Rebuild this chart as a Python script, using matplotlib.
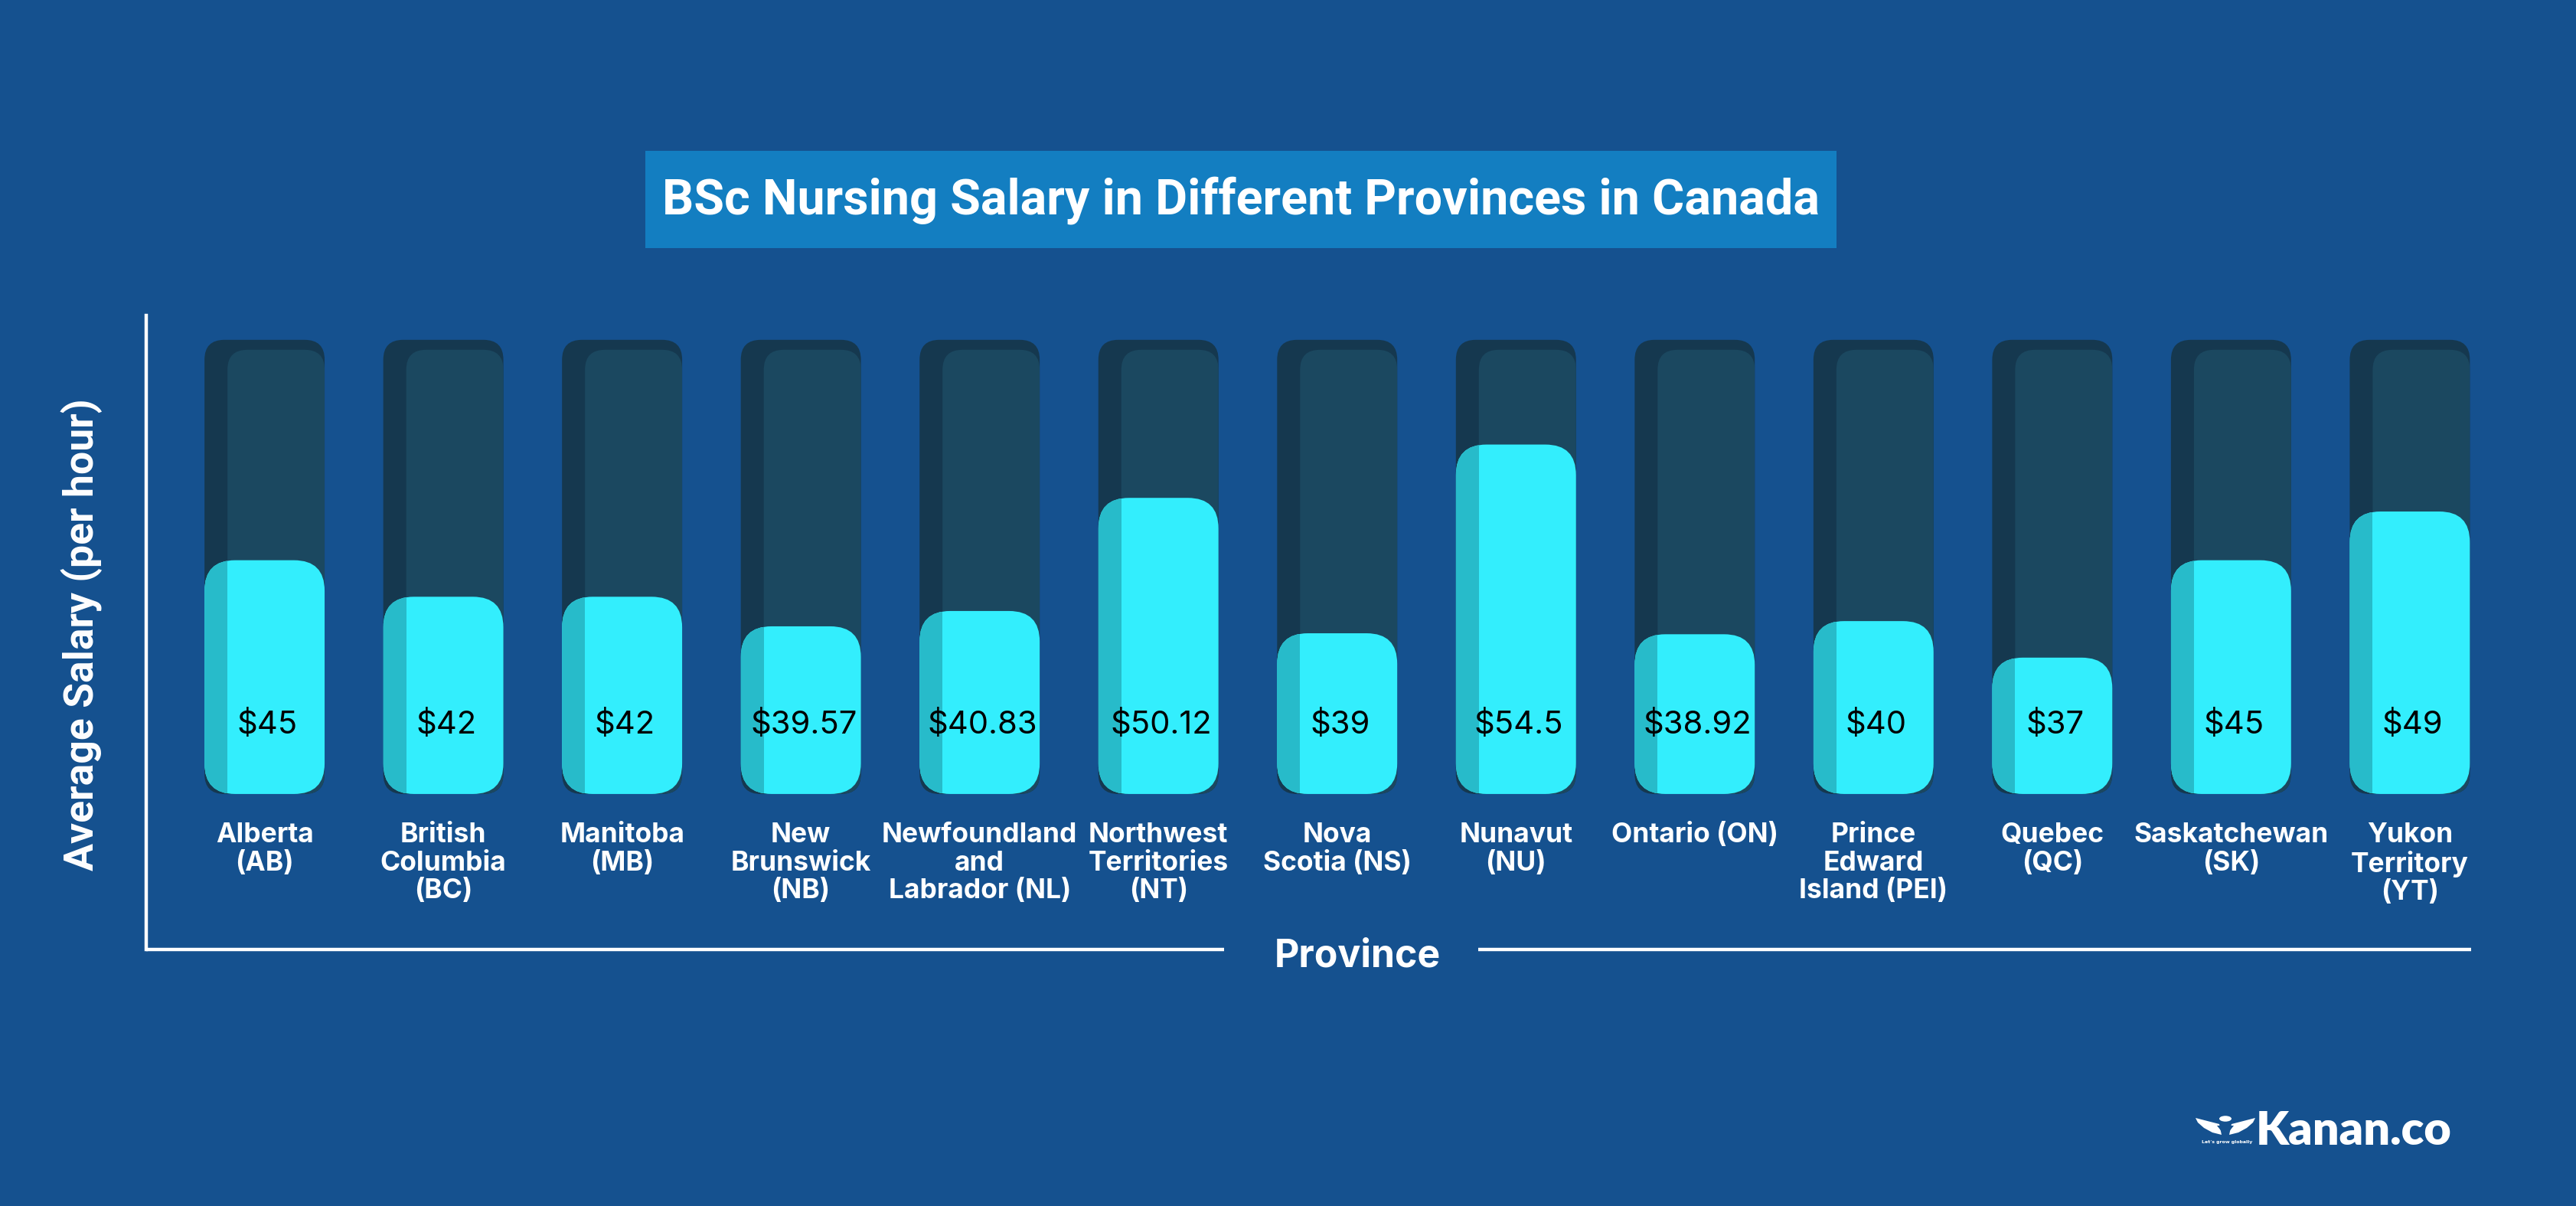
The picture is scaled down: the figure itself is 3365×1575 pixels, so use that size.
import matplotlib
matplotlib.use("Agg")
import matplotlib.pyplot as plt
from matplotlib.patches import FancyBboxPatch, Rectangle, Circle, Polygon
import matplotlib.transforms as mtransforms

# data
provinces = ["Alberta\n(AB)", "British\nColumbia\n(BC)", "Manitoba\n(MB)",
             "New\nBrunswick\n(NB)", "Newfoundland\nand\nLabrador (NL)",
             "Northwest\nTerritories\n(NT)", "Nova\nScotia (NS)", "Nunavut\n(NU)",
             "Ontario (ON)", "Prince\nEdward\nIsland (PEI)", "Quebec\n(QC)",
             "Saskatchewan\n(SK)", "Yukon\nTerritory\n(YT)"]
salary = [45, 42, 42, 39.57, 40.83, 50.12, 39, 54.5, 38.92, 40, 37, 45, 49]

title = "BSc Nursing Salary in Different Provinces in Canada"
xlabel = "Province"
ylabel = "Average Salary (per hour)"

# look
BG = "#15518F"
TITLE_BOX = "#137EC1"
TRACK = "#1B4860"
TRACK_EDGE = "#15384F"
FILL = "#33EEFD"
FILL_EDGE = "#27BBCA"

base = 25.8      # value at bar foot
cap = 63.1       # top of the dark track
bar_w = 0.672

fig = plt.figure(figsize=(33.65, 15.75), dpi=100, facecolor=BG)
ax = fig.add_axes([191 / 3365, 1 - 1240 / 1575, 3037 / 3365, 828 / 1575])
ax.set_facecolor(BG)
ax.set_xlim(-0.662, 12.343)
ax.set_ylim(13.03, 65.1)
for s in ["top", "right", "bottom"]:
    ax.spines[s].set_visible(False)
ax.spines["left"].set_color("white")
ax.spines["left"].set_linewidth(3.2)
ax.set_xticks([])
ax.set_yticks([])

# pixel size of one data unit
o = ax.transData.transform((0, 0))
px_x = ax.transData.transform((1, 0))[0] - o[0]
px_y = ax.transData.transform((0, 1))[1] - o[1]
asp = px_x / px_y


def rounded(x, y, w, h, color, r_px, z):
    p = FancyBboxPatch((x, y), w, h,
                       boxstyle=f"round,pad=0,rounding_size={r_px / px_x}",
                       mutation_aspect=asp, fc=color, ec="none", zorder=z)
    ax.add_patch(p)
    return p


pos = list(range(len(provinces)))
strip = 30 / px_x
inset = 13 / px_y

tracks = ax.bar(pos, [cap - base] * len(pos), bottom=base, width=bar_w)
fills = ax.bar(pos, [v - base for v in salary], bottom=base, width=bar_w)

for t, f in zip(tracks, fills):
    t.set_visible(False)
    f.set_visible(False)
    x, y, w, h = t.get_x(), t.get_y(), t.get_width(), t.get_height()
    outer = rounded(x, y, w, h, TRACK_EDGE, 26, 2)
    inner = rounded(x + strip, y, w - strip, h - inset, TRACK, 26, 3)
    inner.set_clip_path(outer)

    x, y, w, h = f.get_x(), f.get_y(), f.get_width(), f.get_height()
    shape = rounded(x, y, w, h, FILL, 40, 4)
    edge = Rectangle((x, y), strip, h, fc=FILL_EDGE, ec="none", zorder=5)
    ax.add_patch(edge)
    edge.set_clip_path(shape)

# value labels
for p, v in zip(pos, salary):
    ax.text(p + 0.015, 31.5, f"${v:g}", ha="center", va="center",
            fontsize=30, color="black", family=["Inter", "DejaVu Sans"], zorder=6)

# province labels
tr = mtransforms.blended_transform_factory(ax.transData, ax.transAxes)
for p, lab in zip(pos, provinces):
    ax.text(p, 0.2, lab, transform=tr, ha="center", va="top", fontsize=25.5,
            fontweight="bold", color="white", linespacing=1.12,
            family=["Inter", "DejaVu Sans"])

# x axis with gap for the label
ax.plot([0, 0.4636], [0, 0], transform=ax.transAxes, color="white", lw=3.2,
        clip_on=False, solid_capstyle="butt")
ax.plot([0.5729, 1], [0, 0], transform=ax.transAxes, color="white", lw=3.2,
        clip_on=False, solid_capstyle="butt")
fig.text(1773 / 3365, 1 - 1249 / 1575, xlabel, ha="center", va="center",
         fontsize=36, fontweight="bold", color="white", family=["Inter", "DejaVu Sans"])
fig.text(107 / 3365, 1 - 829 / 1575, ylabel, ha="center", va="center", rotation=90,
         fontsize=38.5, fontweight="bold", color="white", family=["Roboto", "DejaVu Sans"])

# title box
fig.patches.append(Rectangle((843 / 3365, 1 - 324 / 1575), 1556 / 3365, 127 / 1575,
                             transform=fig.transFigure, fc=TITLE_BOX, ec="none"))
fig.text(1755 / 3365 - 134 / 3365, 1 - 262 / 1575, title, ha="center", va="center",
         fontsize=46.5, fontweight="bold", color="white", family=["Roboto", "DejaVu Sans"])


# logo
def fp(x, y):
    return (x / 3365, 1 - y / 1575)


fig.text(2947 / 3365, 1 - 1477 / 1575, "Kanan.co", ha="left", va="center",
         fontsize=44, fontweight="heavy", color="white", family=["Lato", "DejaVu Sans"])
fig.patches.append(Circle(fp(2907, 1461), 8 / 3365, transform=fig.transFigure,
                          fc="white", ec="none"))
lwing = [(2899, 1468), (2868, 1460), (2871, 1466), (2879, 1473), (2890, 1479), (2902, 1482)]
rwing = [(2 * 2907 - x, y) for x, y in lwing]
for wing in (lwing, rwing):
    fig.patches.append(Polygon([fp(x, y) for x, y in wing], closed=True,
                               transform=fig.transFigure, fc="white", ec="none"))
fig.patches.append(Polygon([fp(2896, 1470), fp(2907, 1484), fp(2918, 1470),
                            fp(2914, 1470), fp(2907, 1479), fp(2900, 1470)],
                           closed=True, transform=fig.transFigure, fc=BG, ec="none"))
fig.text(2909 / 3365, 1 - 1492 / 1575, "Let's grow globally", ha="center", va="center",
         fontsize=4.5, color="white", fontweight="bold")

fig.savefig("out.png", dpi=100, facecolor=BG)
